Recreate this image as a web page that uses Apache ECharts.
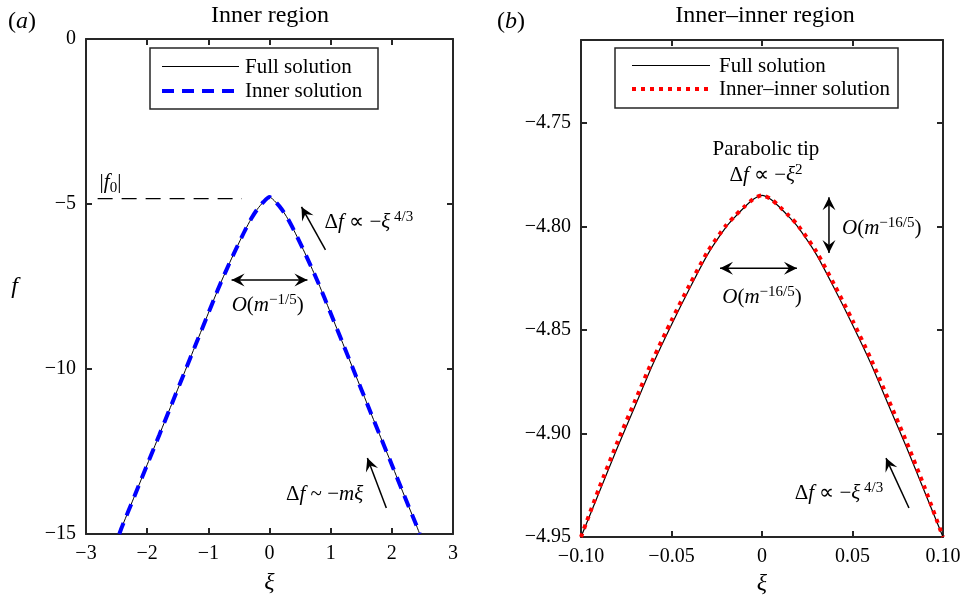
<!DOCTYPE html>
<html>
<head>
<meta charset="utf-8">
<script src="https://cdn.jsdelivr.net/npm/echarts@6/dist/echarts.min.js"></script>
<style>
  html, body { margin: 0; background: #fff; }
  #chart { width: 966px; height: 600px; }
</style>
</head>
<body>
<div id="chart"></div>
<script>
// panel (a): inner region
const leftXTicks = [-3, -2, -1, 0, 1, 2, 3];
const leftYTicks = [-15, -10, -5, 0];
const xiLeft = [-2.455, -2.4, -2.2, -2.0, -1.8, -1.6, -1.4, -1.2, -1.0, -0.9, -0.8, -0.7, -0.6, -0.5, -0.4, -0.3, -0.2, -0.1,
  0, 0.1, 0.2, 0.3, 0.4, 0.5, 0.6, 0.7, 0.8, 0.9, 1.0, 1.2, 1.4, 1.6, 1.8, 2.0, 2.2, 2.4, 2.455];
const fullLeft = [-15.0, -14.73, -13.82, -12.90, -11.99, -11.07, -10.15, -9.23, -8.31, -7.85, -7.40, -6.98, -6.57, -6.18, -5.80, -5.45, -5.16, -4.94,
  -4.79, -4.94, -5.16, -5.45, -5.80, -6.18, -6.57, -6.98, -7.40, -7.85, -8.31, -9.23, -10.15, -11.07, -11.99, -12.90, -13.82, -14.73, -15.0];
const innerLeft = [-15.0, -14.73, -13.82, -12.90, -11.99, -11.07, -10.15, -9.23, -8.31, -7.85, -7.40, -6.98, -6.57, -6.18, -5.80, -5.45, -5.16, -4.94,
  -4.79, -4.94, -5.16, -5.45, -5.80, -6.18, -6.57, -6.98, -7.40, -7.85, -8.31, -9.23, -10.15, -11.07, -11.99, -12.90, -13.82, -14.73, -15.0];
const f0Level = -4.84;
const f0Span = [-2.81, -0.45];

// panel (b): inner-inner region
const rightXTicks = [-0.10, -0.05, 0, 0.05, 0.10];
const rightYTicks = [-4.95, -4.90, -4.85, -4.80, -4.75];
const rightYMax = -4.71;
const xiRight = [-0.1, -0.09, -0.08, -0.07, -0.06, -0.05, -0.04, -0.03, -0.02, -0.015, -0.01, -0.005,
  0, 0.005, 0.01, 0.015, 0.02, 0.03, 0.04, 0.05, 0.06, 0.07, 0.08, 0.09, 0.1];
const fullRight = [-4.950, -4.9285, -4.9070, -4.8865, -4.8660, -4.8475, -4.8300, -4.8135, -4.8005, -4.7955, -4.7910, -4.7870,
  -4.7850, -4.7870, -4.7910, -4.7955, -4.8005, -4.8135, -4.8300, -4.8475, -4.8660, -4.8865, -4.9070, -4.9285, -4.950];
const innerRight = [-4.950, -4.9265, -4.9045, -4.8840, -4.8638, -4.8455, -4.8283, -4.8122, -4.7997, -4.7950, -4.7907, -4.7869,
  -4.7850, -4.7869, -4.7907, -4.7950, -4.7997, -4.8122, -4.8283, -4.8455, -4.8638, -4.8840, -4.9045, -4.9265, -4.950];

const SERIF = "'Liberation Serif', 'Times New Roman', serif";
const INK = '#262626';
const BLUE_DASH = [12, 8];
const RED_DOT = [4, 5];

const zip = (xs, ys) => xs.map((x, i) => [x, ys[i]]);
const minus = s => String(s).replace('-', '\u2212');

function frameAxis(gridIndex, ticks, position, labels, fmt, max) {
  return {
    type: 'value',
    gridIndex,
    position,
    min: ticks[0],
    max: max !== undefined ? max : ticks[ticks.length - 1],
    interval: ticks[1] - ticks[0],
    axisLine: { show: true, onZero: false, lineStyle: { color: INK, width: 2 } },
    axisTick: { show: true, inside: true, length: 6, lineStyle: { color: INK, width: 2 } },
    splitLine: { show: false },
    axisLabel: {
      show: labels,
      formatter: fmt,
      color: '#000',
      fontFamily: SERIF,
      fontSize: 20,
      margin: 10,
      showMaxLabel: max === undefined ? null : false
    }
  };
}

const fmtInt = v => minus(Math.round(v));
const fmtRightX = v => Math.abs(v) < 1e-9 ? '0' : minus(v.toFixed(2));
const fmtRightY = v => minus(v.toFixed(2));

const nameStyle = { fontFamily: SERIF, fontSize: 24, color: '#000', fontStyle: 'italic' };

const xAxes = [
  Object.assign(frameAxis(0, leftXTicks, 'bottom', true, fmtInt),
    { name: '\u03be', nameLocation: 'middle', nameGap: 37, nameTextStyle: nameStyle }),
  frameAxis(0, leftXTicks, 'top', false, fmtInt),
  Object.assign(frameAxis(1, rightXTicks, 'bottom', true, fmtRightX),
    { name: '\u03be', nameLocation: 'middle', nameGap: 34, nameTextStyle: nameStyle }),
  frameAxis(1, rightXTicks, 'top', false, fmtRightX)
];
const yAxes = [
  Object.assign(frameAxis(0, leftYTicks, 'left', true, fmtInt),
    { name: 'f', nameLocation: 'middle', nameGap: 68, nameRotate: 0, nameTextStyle: nameStyle }),
  frameAxis(0, leftYTicks, 'right', false, fmtInt),
  frameAxis(1, rightYTicks, 'left', true, fmtRightY, rightYMax),
  frameAxis(1, rightYTicks, 'right', false, fmtRightY, rightYMax)
];

const option = {
  backgroundColor: '#fff',
  animation: false,
  grid: [
    { left: 86, top: 39, width: 367, height: 495, containLabel: false, outerBoundsMode: 'none' },
    { left: 581, top: 40, width: 362, height: 497, containLabel: false, outerBoundsMode: 'none' }
  ],
  xAxis: xAxes,
  yAxis: yAxes,
  series: [
    {
      name: 'Full solution', type: 'line', xAxisIndex: 0, yAxisIndex: 0,
      data: zip(xiLeft, fullLeft), symbol: 'none', smooth: 0.25, clip: false, z: 2,
      lineStyle: { color: '#000', width: 1 }
    },
    {
      name: 'Inner solution', type: 'line', xAxisIndex: 0, yAxisIndex: 0,
      data: zip(xiLeft, innerLeft), symbol: 'none', smooth: 0.25, clip: false, z: 3,
      lineStyle: { color: '#0000ff', width: 4, type: BLUE_DASH }
    },
    {
      name: 'f0', type: 'line', xAxisIndex: 0, yAxisIndex: 0,
      data: [[f0Span[0], f0Level], [f0Span[1], f0Level]], symbol: 'none', z: 2,
      lineStyle: { color: '#000', width: 1.2, type: [15, 9] }
    },
    {
      name: 'Full solution', type: 'line', xAxisIndex: 2, yAxisIndex: 2,
      data: zip(xiRight, fullRight), symbol: 'none', smooth: 0.25, clip: false, z: 2,
      lineStyle: { color: '#000', width: 1.2 }
    },
    {
      name: 'Inner\u2013inner solution', type: 'line', xAxisIndex: 2, yAxisIndex: 2,
      data: zip(xiRight, innerRight), symbol: 'none', smooth: 0.25, clip: false, z: 3,
      lineStyle: { color: '#ff0000', width: 4, type: RED_DOT, cap: 'butt' }
    }
  ]
};

const chart = echarts.init(document.getElementById('chart'), null, { renderer: 'canvas' });
chart.setOption(option);

// annotations, placed in data coordinates
const rich = {
  n: { fontFamily: SERIF, fontSize: 21, lineHeight: 26, fill: '#000' },
  i: { fontFamily: SERIF, fontSize: 21, lineHeight: 26, fontStyle: 'italic', fill: '#000' },
  s: { fontFamily: SERIF, fontSize: 15, lineHeight: 16, verticalAlign: 'top', fill: '#000' },
  b: { fontFamily: SERIF, fontSize: 15, lineHeight: 16, verticalAlign: 'bottom', fill: '#000' }
};

const leftNotes = [
  { at: [-2.6, -4.36], text: '{n||}{i|f}{b|0}{n||}', align: 'center' },
  { at: [0.9, -5.55], text: '{n|\u0394}{i|f}{n| \u221d \u2212}{i|\u03be}{s| 4/3}', align: 'left' },
  { at: [-0.03, -8.09], text: '{i|O}{n|(}{i|m}{s|\u22121/5}{n|)}', align: 'center' },
  { at: [0.9, -13.79], text: '{n|\u0394}{i|f}{n| ~ \u2212}{i|m\u03be}', align: 'center' }
];
const rightNotes = [
  { at: [0.0022, -4.7627], text: '{n|Parabolic tip}', align: 'center' },
  { at: [0.0022, -4.7753], text: '{n|\u0394}{i|f}{n| \u221d \u2212}{i|\u03be}{s|2}', align: 'center' },
  { at: [0.0442, -4.8009], text: '{i|O}{n|(}{i|m}{s|\u221216/5}{n|)}', align: 'left' },
  { at: [0, -4.8342], text: '{i|O}{n|(}{i|m}{s|\u221216/5}{n|)}', align: 'center' },
  { at: [0.0425, -4.9292], text: '{n|\u0394}{i|f}{n| \u221d \u2212}{i|\u03be}{s| 4/3}', align: 'center' }
];
const leftArrows = [
  { from: [0.915, -6.39], to: [0.523, -5.09], both: false },
  { from: [-0.62, -7.30], to: [0.62, -7.30], both: true },
  { from: [1.91, -14.21], to: [1.60, -12.70], both: false }
];
const rightArrows = [
  { from: [0.037, -4.8129], to: [0.037, -4.7859], both: true },
  { from: [-0.0232, -4.8202], to: [0.0193, -4.8202], both: true },
  { from: [0.0812, -4.936], to: [0.0685, -4.9119], both: false }
];

const px = (si, p) => chart.convertToPixel({ seriesIndex: si }, p);

function head(tip, from) {
  const dx = tip[0] - from[0], dy = tip[1] - from[1];
  const L = Math.hypot(dx, dy), ux = dx / L, uy = dy / L, nx = -uy, ny = ux;
  const len = 13, hw = 6.5, notch = 8;
  return {
    type: 'polygon', z: 100,
    shape: { points: [
      tip,
      [tip[0] - ux * len + nx * hw, tip[1] - uy * len + ny * hw],
      [tip[0] - ux * notch, tip[1] - uy * notch],
      [tip[0] - ux * len - nx * hw, tip[1] - uy * len - ny * hw]
    ] },
    style: { fill: '#000' }
  };
}

const graphics = [];
function addArrows(si, list) {
  list.forEach(a => {
    const p0 = px(si, a.from), p1 = px(si, a.to);
    graphics.push({ type: 'line', z: 99, shape: { x1: p0[0], y1: p0[1], x2: p1[0], y2: p1[1] },
      style: { stroke: '#000', lineWidth: 1.5 } });
    graphics.push(head(p1, p0));
    if (a.both) graphics.push(head(p0, p1));
  });
}
function addNotes(si, list) {
  list.forEach(n => {
    const p = px(si, n.at);
    graphics.push({ type: 'text', z: 100, x: p[0], y: p[1],
      style: { text: n.text, rich, fontFamily: SERIF, fontSize: 21, fill: '#000',
        align: n.align, verticalAlign: 'middle' } });
  });
}
addArrows(0, leftArrows);
addArrows(3, rightArrows);
addNotes(0, leftNotes);
addNotes(3, rightNotes);

// legend boxes drawn as MATLAB-style framed keys
const legends = [
  { box: [150, 48, 228, 61], line: [162, 239], text: 245, rows: [
    { y: 66.5, label: 'Full solution', stroke: '#000', width: 1, dash: null },
    { y: 91, label: 'Inner solution', stroke: '#0000ff', width: 4, dash: BLUE_DASH }
  ] },
  { box: [615, 48, 283, 60], line: [632, 710], text: 719, rows: [
    { y: 65.5, label: 'Full solution', stroke: '#000', width: 1, dash: null },
    { y: 89, label: 'Inner\u2013inner solution', stroke: '#ff0000', width: 4, dash: RED_DOT }
  ] }
];
legends.forEach(lg => {
  graphics.push({ type: 'rect', z: 101,
    shape: { x: lg.box[0], y: lg.box[1], width: lg.box[2], height: lg.box[3] },
    style: { fill: '#fff', stroke: INK, lineWidth: 1.5 } });
  lg.rows.forEach(r => {
    graphics.push({ type: 'line', z: 102,
      shape: { x1: lg.line[0], y1: r.y, x2: lg.line[1], y2: r.y },
      style: { stroke: r.stroke, lineWidth: r.width, lineDash: r.dash, lineCap: 'butt' } });
    graphics.push({ type: 'text', z: 102, x: lg.text, y: Math.round(r.y),
      style: { text: r.label, fontFamily: SERIF, fontSize: 21, fill: '#000', align: 'left', verticalAlign: 'middle' } });
  });
});

// panel titles and labels
[
  { x: 270, y: 16, text: '{n|Inner region}' },
  { x: 765, y: 16, text: '{n|Inner\u2013inner region}' },
  { x: 22, y: 22, text: '{n|(}{i|a}{n|)}' },
  { x: 511, y: 22, text: '{n|(}{i|b}{n|)}' }
].forEach(t => {
  graphics.push({ type: 'text', x: t.x, y: t.y,
    style: { text: t.text, align: 'center', verticalAlign: 'middle', fill: '#000',
      rich: {
        n: { fontFamily: SERIF, fontSize: 24, fill: '#000' },
        i: { fontFamily: SERIF, fontSize: 24, fontStyle: 'italic', fill: '#000' }
      } } });
});

chart.setOption({ graphic: graphics });
</script>
</body>
</html>
